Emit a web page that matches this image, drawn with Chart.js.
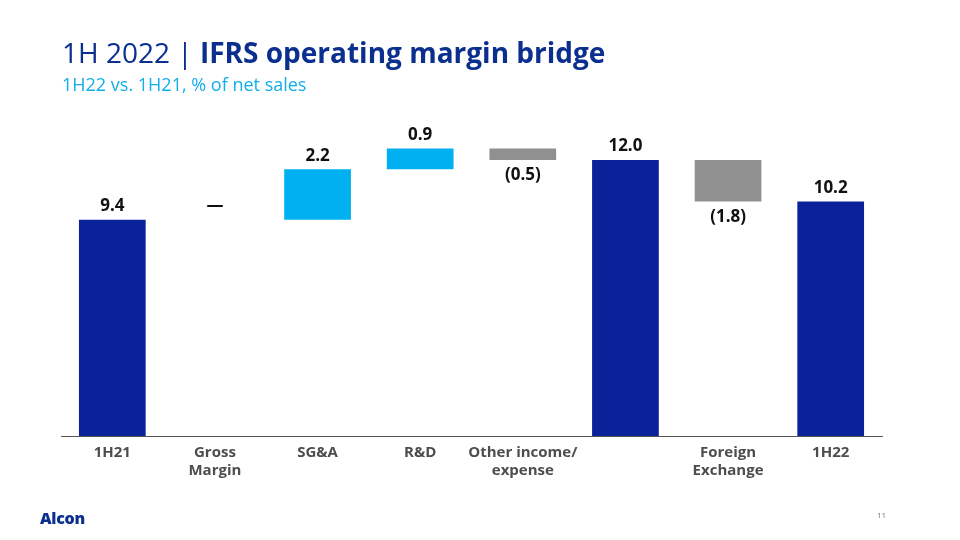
<!DOCTYPE html>
<html>
<head>
<meta charset="utf-8">
<script src="https://cdn.jsdelivr.net/npm/chart.js@4/dist/chart.umd.min.js"></script>
<style>
  body { margin: 0; background: #fff; font-family: "Open Sans", sans-serif; }
  .page { position: relative; width: 960px; height: 540px; overflow: hidden; }
  .title { position: absolute; left: 62px; top: 33px; font-size: 28px; color: #0b2f8e; white-space: nowrap; }
  .title b { font-weight: 700; }
  .subtitle { position: absolute; left: 62px; top: 72px; font-size: 18px; color: #12aeea; white-space: nowrap; }
  .logo { position: absolute; left: 40px; top: 507px; font-size: 16px; font-weight: 800; color: #0b2f8e; letter-spacing: -0.3px; }
  .pageno { position: absolute; left: 877px; top: 509px; font-size: 8px; color: #777; }
  .chart { position: absolute; left: 0; top: 0; width: 960px; height: 540px; }
</style>
</head>
<body>
<div class="page">
  <div class="chart"><canvas id="bridge"></canvas></div>
  <div class="title">1H 2022 | <b>IFRS operating margin bridge</b></div>
  <div class="subtitle">1H22 vs. 1H21, % of net sales</div>
  <div class="logo">Alcon</div>
  <div class="pageno">11</div>
</div>
<script>
// categories and movements (% of net sales)
const categories = [["1H21"], ["Gross", "Margin"], ["SG&A"], ["R&D"], ["Other income/", "expense"], [""], ["Foreign", "Exchange"], ["1H22"]];
const values = [9.4, 0, 2.2, 0.9, -0.5, 12.0, -1.8, 10.2];
const kinds = ["total", "step", "step", "step", "step", "total", "step", "total"];

const colors = { total: "#0a219a", up: "#00b0f0", down: "#909090" };

// build floating bars from the running total
let running = 0;
const ranges = values.map((v, i) => {
  if (kinds[i] === "total") { running = v; return [0, v]; }
  const start = running;
  running = +(running + v).toFixed(1);
  return [start, running];
});
const barColors = values.map((v, i) => kinds[i] === "total" ? colors.total : (v < 0 ? colors.down : colors.up));

function fmt(v, kind) {
  if (kind !== "total" && v === 0) return "—";
  if (v < 0) return "(" + Math.abs(v).toFixed(1) + ")";
  return v.toFixed(1);
}

const valueLabels = {
  id: "valueLabels",
  afterDatasetsDraw(chart) {
    const { ctx } = chart;
    const meta = chart.getDatasetMeta(0);
    const y = chart.scales.y;
    ctx.save();
    ctx.font = "bold 17px 'Open Sans'";
    ctx.fillStyle = "#111";
    ctx.textAlign = "center";
    meta.data.forEach((bar, i) => {
      const v = values[i];
      const [a, b] = ranges[i];
      if (v < 0) {
        ctx.textBaseline = "top";
        ctx.fillText(fmt(v, kinds[i]), bar.x, y.getPixelForValue(Math.min(a, b)) + 7);
      } else {
        ctx.textBaseline = "bottom";
        ctx.fillText(fmt(v, kinds[i]), bar.x, y.getPixelForValue(Math.max(a, b)) - 5);
      }
    });
    ctx.restore();
  }
};

new Chart(document.getElementById("bridge"), {
  type: "bar",
  data: {
    labels: categories,
    datasets: [{
      data: ranges,
      backgroundColor: barColors,
      borderWidth: 0,
      barPercentage: 0.65,
      categoryPercentage: 1.0
    }]
  },
  options: {
    responsive: true,
    maintainAspectRatio: false,
    animation: false,
    layout: { padding: { left: 61, right: 78, top: 114, bottom: 54 } },
    plugins: { legend: { display: false }, tooltip: { enabled: false } },
    scales: {
      x: {
        grid: { display: false },
        border: { display: true, color: "#555", width: 1 },
        ticks: {
          color: "#4d4d4d",
          font: { family: "Open Sans", size: 15, weight: "bold", lineHeight: 1.2 },
          padding: 0,
          maxRotation: 0,
          autoSkip: false
        },
        afterFit(scale) { scale.height = 50; }
      },
      y: {
        display: false,
        min: 0,
        max: 14
      }
    }
  },
  plugins: [valueLabels]
});
</script>
</body>
</html>
